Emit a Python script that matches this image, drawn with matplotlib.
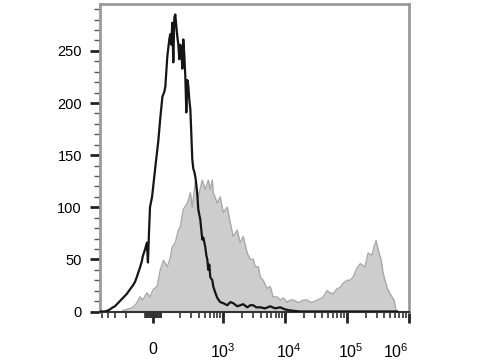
import numpy as np
import matplotlib
matplotlib.use("Agg")
import matplotlib.pyplot as plt
import matplotlib.transforms as mtransforms

plt.rcParams['font.family'] = ['Liberation Sans', 'DejaVu Sans']
plt.rcParams['mathtext.default'] = 'regular'

#%% datos leidos del histograma (intensidad, cuentas)
# control (linea negra)
ctrl_x = [-530, -442, -395, -367, -328, -305, -272, -253, -226, -210, -195, -175,
          -156, -145, -135, -120, -112, -108, -100, -75, -62.5, -50, -37.5, -12.5,
          12.5, 37.5, 62.5, 87.5, 104, 112, 116, 125, 135, 140, 145, 150, 156, 162,
          168, 175, 181, 188, 195, 202, 210, 218, 226, 235, 244, 253, 263, 273, 283,
          294, 305, 316, 328, 341, 354, 367, 381, 395, 426, 458, 476, 512, 532, 552,
          573, 595, 617, 665, 690, 744, 801, 894, 1000, 1160, 1300, 1450, 1680, 1880,
          2100, 2440, 2730, 3050, 3410, 3960, 4760, 5730, 6890, 8300, 10000, 12000,
          17400, 36600, 77500, 164000, 340000, 642000]
ctrl_y = [0, 0, 1, 2, 4, 5, 8, 10, 13, 15, 17, 21,
          25, 28, 33, 42, 48, 53, 59, 66, 47, 75, 100, 110,
          128, 146, 163, 186, 206, 211, 216, 245, 262, 266, 256, 277, 239, 282,
          285, 273, 264, 256, 242, 256, 251, 233, 261, 246, 225, 191, 222, 216, 203,
          194, 170, 146, 137, 134, 129, 122, 112, 98, 88, 69, 71, 62, 54, 50,
          40, 45, 33, 30, 24, 18, 13, 9, 8, 6, 9, 8, 5, 6,
          7, 4, 6, 6, 4, 4, 3, 5, 3, 4, 2, 1,
          0, 0, 0, 0, 0, 0]

# muestra (relleno gris)
samp_x = [-226, -195, -175, -156, -135, -120, -108, -75, -37.5, 0, 50, 62.5, 87.5,
          108, 125, 140, 150, 168, 188, 202, 226, 263, 294, 316, 354, 395, 458, 512,
          573, 617, 665, 690, 801, 894, 1000, 1160, 1300, 1450, 1680, 1880, 2100,
          2440, 2730, 3050, 3280, 3670, 3960, 4420, 5120, 5730, 6400, 7430, 8300,
          9290, 10800, 12000, 13500, 15600, 17400, 19500, 22600, 25300, 28300, 32800,
          36600, 41000, 47600, 53200, 59500, 69000, 77500, 86100, 100000, 112000,
          125000, 145000, 164000, 181000, 195000, 218000, 253000, 272000, 294000,
          328000, 353000, 381000, 410000, 442000, 494000, 532000, 573000, 617000, 642000]
samp_y = [1, 2, 3, 4, 8, 14, 11, 18, 14, 21, 24, 30, 40,
          49, 43, 52, 62, 66, 78, 81, 98, 104, 114, 100, 124, 110, 126, 117,
          126, 117, 126, 114, 104, 110, 95, 100, 85, 72, 78, 66, 72,
          56, 50, 50, 43, 43, 33, 30, 22, 24, 14, 14, 11,
          13, 9, 11, 11, 9, 9, 11, 11, 9, 9, 11,
          12, 14, 20, 18, 17, 22, 23, 27, 30, 30,
          33, 42, 46, 44, 43, 56, 54, 62, 68,
          56, 50, 37, 30, 23, 17, 14, 11, 1, 0]

xtick_vals = [0, 1e3, 1e4, 1e5, 1e6]
xtick_labs = ['0', '$10^{3}$', '$10^{4}$', '$10^{5}$', '$10^{6}$']

#%% grafico
fig = plt.figure(figsize=(4.8, 3.6), dpi=100)
ax = fig.add_axes([100/480, 48.5/360, 309/480, 307.5/360])
ax.set_xscale('symlog', linthresh=100, linscale=0.12)

ax.fill_between(samp_x, samp_y, 0, color='#cdcdcd', lw=0, zorder=1)
ax.plot(samp_x, samp_y, color='#a8a8a8', lw=1.0, zorder=2)
ax.plot(ctrl_x, ctrl_y, color='#151515', lw=1.6, zorder=3)

ax.set_xlim(-530, 1e6)
ax.set_ylim(0, 295)

# ticks eje y
ax.set_yticks(np.arange(0, 251, 50))
ax.set_yticks(np.arange(0, 291, 10), minor=True)
ax.tick_params(axis='y', which='major', length=7, width=2, color='#222222',
               labelsize=10.5, pad=6)
ax.tick_params(axis='y', which='minor', length=4, width=1, color='#555555')

# ticks eje x
ax.set_xticks(xtick_vals)
ax.set_xticklabels(xtick_labs)
minors = [-500, -400, -300, -200, -100]
minors += list(range(-90, 100, 10))
for dec in [100, 1000, 10000, 100000]:
    minors += [k * dec for k in range(1, 10) if k * dec not in xtick_vals]
ax.set_xticks(minors, minor=True)
ax.tick_params(axis='x', which='major', length=8, width=2, color='#222222',
               labelsize=11.5, pad=14)
ax.tick_params(axis='x', which='minor', length=4, width=1.2, color='#333333')
labs = ax.get_xticklabels()
shift = mtransforms.ScaledTranslation(4/100, 0, fig.dpi_scale_trans)
for lab in labs[2:4]:
    lab.set_transform(lab.get_transform() + shift)
labs[-1].set_ha('right')

for s in ['top', 'right', 'left']:
    ax.spines[s].set_color('#9a9a9a')
    ax.spines[s].set_linewidth(2)
ax.spines['bottom'].set_color('#333333')
ax.spines['bottom'].set_linewidth(1.5)

fig.savefig('out.png', dpi=100)
